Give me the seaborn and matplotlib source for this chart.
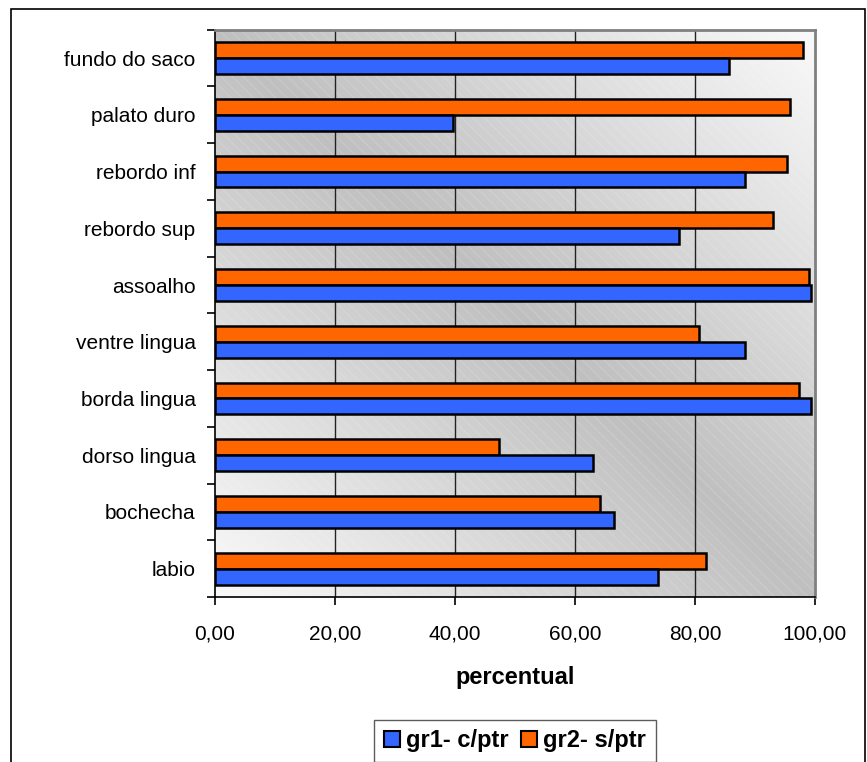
import numpy as np
import pandas as pd
import matplotlib
matplotlib.use('Agg')
import matplotlib.pyplot as plt
from matplotlib.patches import Patch, Rectangle
import seaborn as sns

# data (top to bottom)
locais = ['fundo do saco', 'palato duro', 'rebordo inf', 'rebordo sup', 'assoalho',
          'ventre lingua', 'borda lingua', 'dorso lingua', 'bochecha', 'labio']
gr1 = [85.6, 39.6, 88.3, 77.3, 99.4, 88.3, 99.3, 63.0, 66.5, 73.9]   # gr1- c/ptr
gr2 = [98.0, 95.9, 95.4, 93.0, 99.0, 80.7, 97.4, 47.4, 64.1, 81.8]   # gr2- s/ptr
grupos = ['gr1- c/ptr', 'gr2- s/ptr']
cores = {'gr1- c/ptr': '#3366FF', 'gr2- s/ptr': '#FF6600'}
xticks = [0, 20, 40, 60, 80, 100]

df = pd.DataFrame({
    'local': locais * 2,
    'valor': gr1 + gr2,
    'grupo': [grupos[0]] * len(locais) + [grupos[1]] * len(locais),
})

sns.set_style('white')
plt.rcParams['font.family'] = ['Liberation Sans', 'DejaVu Sans']
plt.rcParams['text.color'] = 'black'
plt.rcParams['axes.labelcolor'] = 'black'
plt.rcParams['xtick.color'] = 'black'
plt.rcParams['ytick.color'] = 'black'

fig = plt.figure(figsize=(8.67, 7.62), dpi=100)
ax = fig.add_axes([0.248, 0.2165, 0.692, 0.7445])

# orange drawn above blue inside each category
sns.barplot(data=df, x='valor', y='local', hue='grupo', order=locais,
            hue_order=[grupos[1], grupos[0]], palette=cores, saturation=1, orient='h',
            width=0.56, edgecolor='black', linewidth=1.8, errorbar=None,
            legend=False, ax=ax, zorder=3)

# diagonal gradient background like the Excel plot area
n = 200
u = np.linspace(0, 1, n)
U, W = np.meshgrid(u, u)
g = 0.75 + 0.23 * np.abs(U - W)
img = np.dstack([g, g, g])
ax.imshow(img, extent=[0, 100, 9.5, -0.5], origin='upper', aspect='auto', zorder=0)
ax.add_patch(Rectangle((0, 0), 1, 1, transform=ax.transAxes, fill=False,
                       hatch='\\\\\\', edgecolor=(1, 1, 1, 0.12), linewidth=0, zorder=0.5))

ax.set_xlim(0, 100)
ax.set_ylim(9.5, -0.5)

for v in xticks[1:-1]:
    ax.axvline(v, color='#222222', linewidth=1.0, zorder=1)

ax.set_xticks(xticks)
ax.set_xticklabels([f'{v:.2f}'.replace('.', ',') for v in xticks], fontsize=15)
ax.set_yticks(range(len(locais)))
ax.set_yticklabels(locais, fontsize=15)
ax.set_yticks(np.arange(-0.5, len(locais), 1), minor=True)
ax.tick_params(axis='y', which='major', length=0, pad=14)
ax.tick_params(axis='y', which='minor', length=6, width=1.2, color='black', direction='out', left=True)
ax.tick_params(axis='x', which='major', length=6, width=1.2, color='black', direction='out',
               bottom=True, pad=14)

ax.set_xlabel('percentual', fontsize=17, fontweight='bold', labelpad=16)
ax.set_ylabel('')

for s in ['left', 'bottom']:
    ax.spines[s].set_color('black')
    ax.spines[s].set_linewidth(1.2)
for s in ['top', 'right']:
    ax.spines[s].set_color('#808080')
    ax.spines[s].set_linewidth(2)

handles = [Patch(facecolor=cores[g_], edgecolor='black', linewidth=1.5, label=g_) for g_ in grupos]
leg = fig.legend(handles=handles, loc='center', bbox_to_anchor=(0.594, 0.028), ncol=2,
                 frameon=True, fancybox=False, edgecolor='#333333', fontsize=17,
                 handlelength=0.7, handleheight=0.7, handletextpad=0.25, columnspacing=0.5,
                 borderpad=0.4, borderaxespad=0)
leg.get_frame().set_linewidth(1.0)
for t in leg.get_texts():
    t.set_fontweight('bold')

# outer chart border
fig.patches.append(Rectangle((11 / 867, -0.1), (865 - 11) / 867, 1.1 - 9 / 762,
                             transform=fig.transFigure, fill=False, edgecolor='black',
                             linewidth=1.2))

fig.savefig('out.png', dpi=100, facecolor='white')
